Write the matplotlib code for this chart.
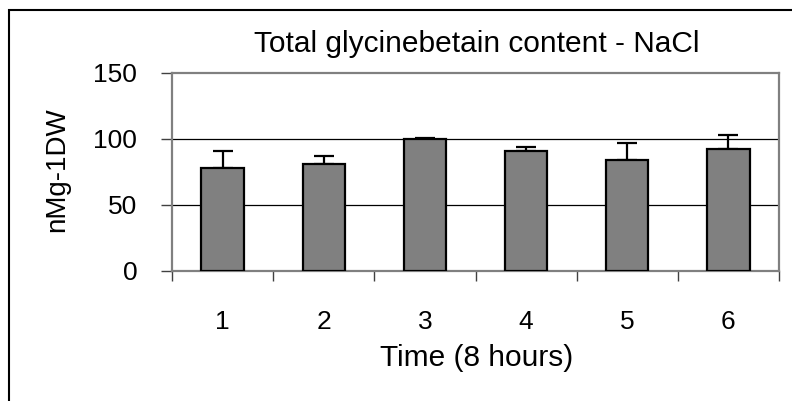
import numpy as np
import matplotlib
matplotlib.use('Agg')
import matplotlib.pyplot as plt
from matplotlib.patches import Rectangle

plt.rcParams['font.family'] = ['Liberation Sans', 'DejaVu Sans']

times = ['1', '2', '3', '4', '5', '6']
content = [77.5, 81, 100, 90.5, 84, 92]
err = [13, 6, 0.4, 3, 13, 11]

fig = plt.figure(figsize=(7.92, 4.01), dpi=100)
ax = fig.add_axes([172/792, 1 - 270.7/401, 607/792, 198/401])

x = np.arange(1, len(times) + 1)
ax.bar(x, content, width=0.42, color='#808080', edgecolor='black', linewidth=1.6, zorder=3)
ax.errorbar(x, content, yerr=[np.zeros(len(err)), err], fmt='none', ecolor='black',
            elinewidth=1.6, capsize=7, capthick=1.6, zorder=2)

ax.set_xlim(0.5, 6.5)
ax.set_ylim(0, 150)
ax.set_yticks([0, 50, 100, 150])
for y in [50, 100]:
    ax.axhline(y, color='black', linewidth=0.9, zorder=1)

# category labels at centres, tick marks at the boundaries
ax.set_xticks(x)
ax.set_xticklabels(times)
ax.set_xticks(np.arange(0.5, 7, 1), minor=True)
ax.tick_params(axis='x', which='major', length=0, pad=28, labelsize=19)
ax.tick_params(axis='x', which='minor', length=7, width=1, color='#404040')
ax.tick_params(axis='y', length=8, width=1, color='#404040', pad=17, labelsize=19)

for s in ax.spines.values():
    s.set_color('#808080')
    s.set_linewidth(1.6)

xc = 476.5 / 792
fig.text(xc, 1 - 52/401, 'Total glycinebetain content - NaCl', ha='center', va='baseline', fontsize=21.5)
fig.text(xc, 1 - 366/401, 'Time (8 hours)', ha='center', va='baseline', fontsize=21.5)
fig.text(57.5/792, 1 - 170/401, 'nMg-1DW', ha='center', va='center', rotation=90, fontsize=20)

# chart area border
fig.patches.append(Rectangle((9/792, -0.2), 1.2, 1.2 - 10/401, transform=fig.transFigure,
                             fill=False, edgecolor='black', linewidth=1.5, clip_on=False))

fig.savefig('out.png', dpi=100)
